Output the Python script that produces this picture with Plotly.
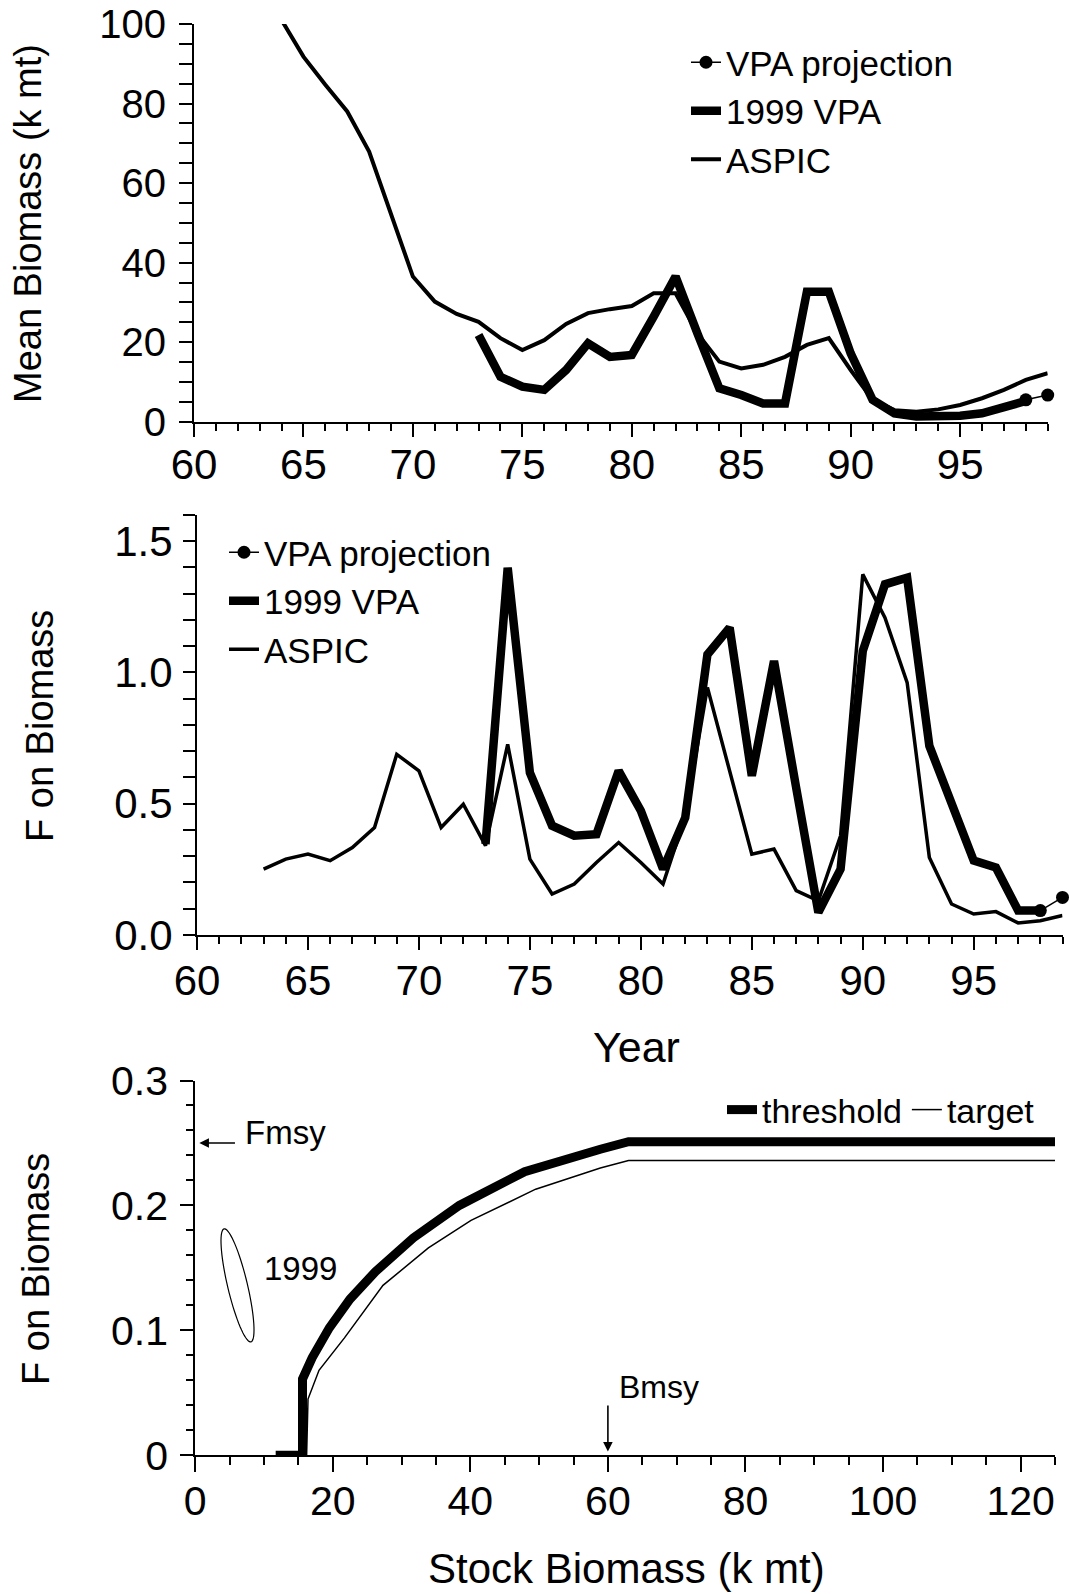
import numpy as np
import plotly.graph_objects as go

W, H = 1069, 1594
FONT = "Liberation Sans, Arial, Helvetica, sans-serif"

# ---------------- data ----------------
# Panel 1: mean biomass (k mt)
years_aspic_b = list(range(64, 100))
aspic_biomass = [101, 91.8, 84.7, 78.0, 67.9, 52.4, 36.5, 30.2, 27.1, 25.1,
                 21.0, 18.0, 20.5, 24.6, 27.3, 28.3, 29.1, 32.3, 32.3, 22.2,
                 15.1, 13.4, 14.3, 16.3, 19.3, 21.0, 13.0, 5.5, 2.9, 2.5,
                 3.1, 4.2, 5.9, 8.0, 10.5, 12.2]
years_vpa_b = list(range(73, 99))
vpa_biomass = [21.8, 11.3, 8.8, 8.0, 13.0, 19.7, 16.3, 16.8, 26.4, 36.5,
               22.2, 8.4, 6.7, 4.6, 4.6, 32.7, 32.7, 17.2, 5.5, 2.1,
               1.3, 1.3, 1.5, 2.1, 3.4, 5.2]
years_proj = [98, 99]
proj_biomass = [5.5, 6.7]

# Panel 2: F on biomass
years_aspic_f = list(range(63, 100))
aspic_f = [0.251, 0.289, 0.308, 0.283, 0.333, 0.409, 0.688, 0.625, 0.409, 0.498,
           0.340, 0.726, 0.289, 0.156, 0.194, 0.276, 0.352, 0.276, 0.194, 0.45,
           0.942, 0.631, 0.308, 0.327, 0.169, 0.13, 0.378, 1.373, 1.208, 0.961,
           0.295, 0.118, 0.080, 0.089, 0.046, 0.054, 0.074]
years_vpa_f = list(range(73, 99))
vpa_f = [0.346, 1.398, 0.618, 0.416, 0.378, 0.384, 0.625, 0.473, 0.251, 0.447,
         1.068, 1.170, 0.606, 1.043, 0.56, 0.086, 0.251, 1.081, 1.335, 1.360,
         0.720, 0.492, 0.283, 0.257, 0.093, 0.093]
proj_f = [0.093, 0.143]

# Panel 3: control rules
threshold_b = [11.7, 15.6, 15.6, 17.0, 19.5, 22.5, 26.2, 31.7, 38.4, 47.9, 58.9, 63.0, 125]
threshold_f = [0, 0, 0.061, 0.078, 0.102, 0.125, 0.147, 0.174, 0.200, 0.227, 0.245, 0.251, 0.251]
target_b = [16.2, 16.4, 18.0, 21.7, 27.3, 33.9, 40.1, 49.5, 58.9, 63.0, 125]
target_f = [0, 0.045, 0.068, 0.094, 0.136, 0.166, 0.188, 0.213, 0.230, 0.236, 0.236]
fmsy = 0.25
bmsy = 60
# 1999 confidence ellipse (centre, end of major axis, half-minor offset) in data units
ell_center = (6.15, 0.136)
ell_major = (-1.95, 0.0452)
ell_minor = (1.4, 0.0018)


def px(xp):
    return xp / W


def py(yp):
    return 1 - yp / H


fig = go.Figure()

# ---- panel 1 ----
fig.add_trace(go.Scatter(x=years_proj, y=proj_biomass, name="VPA projection",
                         mode="lines+markers", line=dict(color="black", width=1.5),
                         marker=dict(size=13, color="black"), cliponaxis=False,
                         xaxis="x", yaxis="y", legend="legend", legendgroup="p1"))
fig.add_trace(go.Scatter(x=years_vpa_b, y=vpa_biomass, name="1999 VPA", mode="lines",
                         line=dict(color="black", width=8.5),
                         xaxis="x", yaxis="y", legend="legend", legendgroup="v1"))
fig.add_trace(go.Scatter(x=years_aspic_b, y=aspic_biomass, name="ASPIC", mode="lines",
                         line=dict(color="black", width=4),
                         xaxis="x", yaxis="y", legend="legend", legendgroup="a1"))

# ---- panel 2 ----
fig.add_trace(go.Scatter(x=years_proj, y=proj_f, name="VPA projection",
                         mode="lines+markers", line=dict(color="black", width=1.5),
                         marker=dict(size=13, color="black"), cliponaxis=False,
                         xaxis="x2", yaxis="y2", legend="legend2", legendgroup="p2"))
fig.add_trace(go.Scatter(x=years_vpa_f, y=vpa_f, name="1999 VPA", mode="lines",
                         line=dict(color="black", width=8.5),
                         xaxis="x2", yaxis="y2", legend="legend2", legendgroup="v2"))
fig.add_trace(go.Scatter(x=years_aspic_f, y=aspic_f, name="ASPIC", mode="lines",
                         line=dict(color="black", width=3.5),
                         xaxis="x2", yaxis="y2", legend="legend2", legendgroup="a2"))

# ---- panel 3 ----
fig.add_trace(go.Scatter(x=threshold_b, y=threshold_f, name="threshold", mode="lines",
                         line=dict(color="black", width=9),
                         xaxis="x3", yaxis="y3", legend="legend3"))
fig.add_trace(go.Scatter(x=target_b, y=target_f, name="target", mode="lines",
                         line=dict(color="black", width=1.5),
                         xaxis="x3", yaxis="y3", legend="legend3"))

axis_common = dict(showline=True, linewidth=2, linecolor="black", mirror=False,
                   showgrid=False, zeroline=False, ticks="outside", tickwidth=2,
                   tickcolor="black", color="black", automargin=False)

fig.update_layout(
    template="none",
    width=W, height=H, margin=dict(l=0, r=0, t=0, b=0, pad=0), autosize=False,
    paper_bgcolor="white", plot_bgcolor="white",
    font=dict(family=FONT, color="black"),
    xaxis=dict(**axis_common, domain=[px(194), px(1047.7)], anchor="y", range=[60, 99],
               tick0=60, dtick=5, ticklen=13, tickfont=dict(size=42), ticklabelstandoff=-8,
               minor=dict(dtick=1, ticklen=7, tickwidth=2, tickcolor="black", ticks="outside")),
    yaxis=dict(**axis_common, domain=[py(421.7), py(24)], anchor="x", range=[0, 100],
               tick0=0, dtick=20, ticklen=13, tickfont=dict(size=40), ticklabelstandoff=5,
               minor=dict(dtick=5, ticklen=13, tickwidth=2, tickcolor="black", ticks="outside")),
    xaxis2=dict(**axis_common, domain=[px(197), px(1062.5)], anchor="y2", range=[60, 99],
                tick0=60, dtick=5, ticklen=13, tickfont=dict(size=42), ticklabelstandoff=-5,
                minor=dict(dtick=1, ticklen=7, tickwidth=2, tickcolor="black", ticks="outside")),
    yaxis2=dict(**axis_common, domain=[py(935), py(514.7)], anchor="x2", range=[0, 1.6],
                tick0=0, dtick=0.5, tickformat=".1f", ticklen=12, tickfont=dict(size=42),
                ticklabelstandoff=2,
                minor=dict(dtick=0.1, ticklen=12, tickwidth=2, tickcolor="black", ticks="outside")),
    xaxis3=dict(**axis_common, domain=[px(195.2), px(1055)], anchor="y3", range=[0, 125],
                tick0=0, dtick=20, ticklen=15, tickfont=dict(size=41), ticklabelstandoff=-7,
                minor=dict(dtick=5, ticklen=8, tickwidth=2, tickcolor="black", ticks="outside")),
    yaxis3=dict(**axis_common, domain=[py(1455.3), py(1080.5)], anchor="x3", range=[0, 0.3],
                tick0=0, dtick=0.1, ticklen=13, tickfont=dict(size=41), ticklabelstandoff=4,
                minor=dict(dtick=0.02, ticklen=7, tickwidth=2, tickcolor="black", ticks="outside")),
    legend=dict(x=px(686), y=py(33), xanchor="left", yanchor="top", bgcolor="rgba(0,0,0,0)",
                font=dict(size=35, family=FONT), tracegroupgap=0, itemwidth=30),
    legend2=dict(x=px(224), y=py(523), xanchor="left", yanchor="top", bgcolor="rgba(0,0,0,0)",
                 font=dict(size=35, family=FONT), tracegroupgap=0, itemwidth=30),
    legend3=dict(x=px(722), y=py(1081), xanchor="left", yanchor="top", bgcolor="rgba(0,0,0,0)",
                 orientation="h", font=dict(size=34, family=FONT), itemwidth=30),
)

ann = []
# axis titles
ann.append(dict(text="Mean Biomass (k mt)", x=px(28), y=py(224), xref="paper", yref="paper",
                xanchor="center", yanchor="middle",
                textangle=-90, showarrow=False, font=dict(size=38)))
ann.append(dict(text="F on Biomass", x=px(40), y=py(726), xref="paper", yref="paper",
                xanchor="center", yanchor="middle",
                textangle=-90, showarrow=False, font=dict(size=38)))
ann.append(dict(text="Year", x=px(636), y=py(1047), xref="paper", yref="paper",
                xanchor="center", yanchor="middle",
                showarrow=False, font=dict(size=43)))
ann.append(dict(text="F on Biomass", x=px(36), y=py(1269), xref="paper", yref="paper",
                xanchor="center", yanchor="middle",
                textangle=-90, showarrow=False, font=dict(size=38)))
ann.append(dict(text="Stock Biomass (k mt)", x=px(626), y=py(1568), xref="paper", yref="paper",
                xanchor="center", yanchor="middle",
                showarrow=False, font=dict(size=42)))
# reference points
ann.append(dict(text="", x=0.6, y=fmsy, ax=6.0, ay=fmsy, xref="x3", yref="y3",
                axref="x3", ayref="y3", showarrow=True, arrowhead=2, arrowsize=1.2,
                arrowwidth=1.6, arrowcolor="black"))
ann.append(dict(text="Fmsy", x=6.9, y=0.258, xref="x3", yref="y3", xanchor="left",
                yanchor="middle", showarrow=False, font=dict(size=33)))
ann.append(dict(text="", x=bmsy, y=0.003, ax=bmsy, ay=0.041, xref="x3", yref="y3",
                axref="x3", ayref="y3", showarrow=True, arrowhead=2, arrowsize=1.2,
                arrowwidth=1.6, arrowcolor="black"))
ann.append(dict(text="Bmsy", x=61.3, y=0.055, xref="x3", yref="y3", xanchor="left",
                yanchor="middle", showarrow=False, font=dict(size=32)))
ann.append(dict(text="1999", x=9.7, y=0.1495, xref="x3", yref="y3", xanchor="left",
                yanchor="middle", showarrow=False, font=dict(size=33)))
fig.update_layout(annotations=ann)

# ellipse outline for 1999 estimate
t = np.linspace(0, 2 * np.pi, 73)
ex = ell_center[0] + np.cos(t) * ell_major[0] + np.sin(t) * ell_minor[0]
ey = ell_center[1] + np.cos(t) * ell_major[1] + np.sin(t) * ell_minor[1]
path = "M " + " L ".join(f"{a:.4f},{b:.5f}" for a, b in zip(ex, ey)) + " Z"
fig.add_shape(type="path", path=path, xref="x3", yref="y3",
              line=dict(color="black", width=1.2))

fig.write_html("out.html", config={"displayModeBar": False},
               post_script="document.body.style.margin='0';document.body.style.padding='0';")
